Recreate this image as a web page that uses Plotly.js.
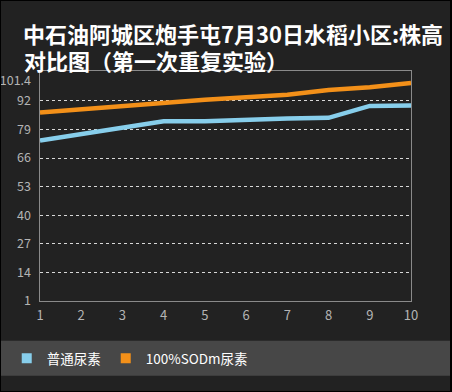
<!DOCTYPE html>
<html>
<head>
<meta charset="utf-8">
<script src="https://cdn.plot.ly/plotly-3.0.1.min.js"></script>
<style>html,body{margin:0;padding:0;background:#222222;}#chart{width:452px;height:392px;}</style>
</head>
<body>
<div id="chart"></div>
<script>
const xValues = [1, 2, 3, 4, 5, 6, 7, 8, 9, 10];
const seriesNames = ["普通尿素", "100%SODm尿素"];
const normalUrea = [74, 77, 80, 82.7, 82.8, 83.5, 84, 84.3, 89.7, 89.9];
const sodmUrea = [86.7, 88.2, 89.8, 91.2, 92.5, 93.7, 94.8, 97, 98.2, 100.2];
const seriesColors = ["#87ceeb", "#f39019"];
const yGridTicks = [14, 27, 40, 53, 66, 79, 92];
const yLabelTicks = [1, 14, 27, 40, 53, 66, 79, 92, 101.4];
const titleLine1 = "中石油阿城区炮手屯7月30日水稻小区:株高";
const titleLine2 = "对比图（第一次重复实验）";

const font = "'Noto Sans CJK SC', 'Noto Sans', sans-serif";
const seriesData = [normalUrea, sodmUrea];

const traces = [];
seriesData.forEach((ys, i) => {
  traces.push({
    type: "scatter", mode: "lines", x: xValues, y: ys,
    line: {color: seriesColors[i], width: 4.5},
    showlegend: false, legendgroup: "g" + i, hoverinfo: "skip"
  });
});
seriesData.forEach((ys, i) => {
  traces.push({
    type: "scatter", mode: "markers", x: [null], y: [null],
    name: seriesNames[i], legendgroup: "g" + i,
    marker: {symbol: "square", size: 10, color: seriesColors[i]}
  });
});
// invisible anchor for the label axis
traces.push({type: "scatter", mode: "lines", x: [null], y: [null], yaxis: "y2", showlegend: false, hoverinfo: "skip"});

const titleFont = {family: font, size: 22, color: "#ffffff", weight: "bold"};

const layout = {
  width: 452, height: 392,
  paper_bgcolor: "#222222", plot_bgcolor: "#222222",
  margin: {l: 40, r: 41, t: 71, b: 91, autoexpand: false},
  title: {
    text: titleLine1, xref: "container", yref: "container",
    x: 23/452, xanchor: "left", y: 1 - 35/392, yanchor: "middle",
    font: titleFont, automargin: false
  },
  annotations: [{
    text: titleLine2, xref: "paper", yref: "paper",
    x: (22 - 40)/371, xanchor: "left", y: (301 - 60.5)/230, yanchor: "middle",
    showarrow: false, font: titleFont
  }],
  xaxis: {
    range: [1, 10], tickvals: xValues, showgrid: false, zeroline: false,
    showline: true, mirror: true, linecolor: "#8a8a8a", linewidth: 1,
    ticks: "", ticklabelstandoff: 2, automargin: false,
    tickfont: {family: font, size: 13, color: "#b4b4b4"}
  },
  yaxis: {
    range: [1, 105.6], tickvals: yGridTicks, showticklabels: false,
    showgrid: true, gridcolor: "#d8d8d8", griddash: "dot", gridwidth: 1,
    zeroline: false, showline: true, mirror: true, linecolor: "#8a8a8a", linewidth: 1,
    ticks: "", automargin: false
  },
  yaxis2: {
    overlaying: "y", side: "left", range: [1, 105.6], tickvals: yLabelTicks,
    showgrid: false, zeroline: false, showline: false, ticks: "",
    ticklabelstandoff: 8, automargin: false,
    tickfont: {family: font, size: 12.5, color: "#b4b4b4"}
  },
  showlegend: true,
  legend: {
    orientation: "h", x: -0.06 - 11/371, xanchor: "left", y: -0.25, yanchor: "middle",
    bgcolor: "rgba(0,0,0,0)", font: {family: font, size: 13.5, color: "#ffffff"},
    itemclick: false
  },
  shapes: [
    {type: "rect", xref: "paper", yref: "paper", x0: -0.12, x1: 1.12, y0: -0.1726, y1: -0.3248,
     fillcolor: "#474747", line: {width: 0}, layer: "below"},
    {type: "rect", xref: "paper", yref: "paper", x0: -40/371, x1: 411/371, y0: 301/230, y1: -91/230,
     fillcolor: "rgba(0,0,0,0)", line: {color: "#000000", width: 2}}
  ]
};

Plotly.newPlot("chart", traces, layout, {displayModeBar: false, staticPlot: true});
</script>
</body>
</html>
